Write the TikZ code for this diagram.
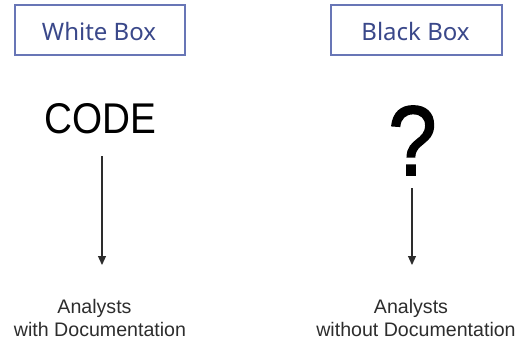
\documentclass[tikz,border=0pt]{standalone}
\usepackage{fontspec}
\setmainfont{Liberation Sans}
\newfontfamily\boxfont{Noto Sans}
\newfontfamily\qfont[FakeBold=1.6]{Liberation Sans}
\usetikzlibrary{arrows.meta}
\definecolor{boxtext}{RGB}{58,72,138}
\definecolor{boxline}{RGB}{104,118,182}
\definecolor{ink}{RGB}{45,45,45}
\tikzset{
  titlebox/.style={draw=boxline, line width=1.2pt, minimum width=#1, minimum height=50pt, inner sep=0pt},
  titletext/.style={text=boxtext, font=\boxfont\fontsize{24}{24}\selectfont, anchor=base, inner sep=0pt},
  bigtext/.style={text=black, anchor=base, inner sep=0pt},
  labeltext/.style={text=ink, font=\fontsize{19.6}{19.6}\selectfont, anchor=base, inner sep=0pt},
  flow/.style={draw=ink, line width=1.2pt, -{Triangle[length=9pt,width=8pt]}}
}
\begin{document}
\begin{tikzpicture}[x=1pt,y=-1pt]
\useasboundingbox (0,0) rectangle (522,343);
% title boxes
\node[titlebox=170pt] (wbox) at (100,30) {};
\node[titletext] (wtext) at (99,40) {White Box};
\node[titlebox=171pt] (bbox) at (416.5,30) {};
\node[titletext] (btext) at (415.5,40) {Black Box};
% big symbols
\node[bigtext, font=\fontsize{43}{43}\selectfont, xscale=0.9] (code) at (100,133) {CODE};
\node[bigtext, font=\qfont\fontsize{99}{99}\selectfont, xscale=0.88] (q) at (412.5,175) {?};
% arrow endpoints
\coordinate (cs) at (102,156);
\coordinate (ce) at (102,265);
\coordinate (qs) at (412,188);
\coordinate (qe) at (412,265);
\draw[flow] (cs) -- (ce);
\draw[flow] (qs) -- (qe);
% labels
\node[labeltext] (la1) at (94.5,313) {Analysts};
\node[labeltext] (la2) at (100,336) {with Documentation};
\node[labeltext] (lb1) at (411,313) {Analysts};
\node[labeltext] (lb2) at (416,336) {without Documentation};
\end{tikzpicture}
\end{document}
